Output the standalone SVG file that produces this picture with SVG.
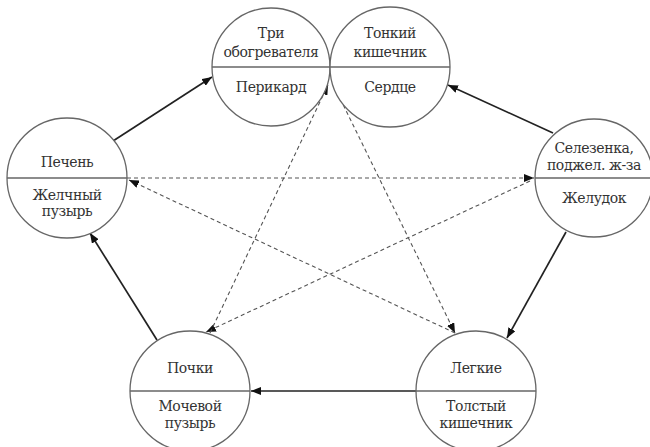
<svg xmlns="http://www.w3.org/2000/svg" width="650" height="447" viewBox="0 0 650 447">
<defs>
<marker id="ah" viewBox="0 0 10 8" refX="10" refY="4" markerWidth="10" markerHeight="8" markerUnits="userSpaceOnUse" orient="auto">
<path d="M0,0 L10,4 L0,8 Z" fill="#111"/>
</marker>
<style>
.c{fill:#fff;stroke:#666;stroke-width:1.3}
.d{stroke:#666;stroke-width:1.3}
.t{font-family:'DejaVu Serif','Liberation Serif',serif;font-size:14px;letter-spacing:-0.4px;fill:#333;text-anchor:middle}
.s{stroke:#222;stroke-width:1.7;fill:none;marker-end:url(#ah)}
.k{stroke:#555;stroke-width:1.1;stroke-dasharray:4 3;fill:none;marker-end:url(#ah)}
</style>
</defs>
<rect width="650" height="447" fill="#fff"/>
<g id="connectors">
<line class="k" x1="127" y1="178" x2="534" y2="178"/>
<line class="k" x1="530" y1="181" x2="206" y2="332"/>
<line class="k" x1="210" y1="333" x2="328" y2="85"/>
<line class="k" x1="334" y1="86" x2="455" y2="333"/>
<line class="k" x1="455" y1="333" x2="129" y2="180"/>
<line class="s" x1="113" y1="141" x2="212" y2="77"/>
<line class="s" x1="553" y1="133" x2="448" y2="85"/>
<line class="s" x1="566" y1="232" x2="507" y2="338"/>
<line class="s" x1="416" y1="391" x2="251" y2="391"/>
<line class="s" x1="157" y1="340" x2="90" y2="233"/>
</g>
<g id="triple-heater">
<circle class="c" cx="271" cy="67" r="59"/>
<line class="d" x1="212" y1="67" x2="330" y2="67"/>
<text class="t" x="271" y="38">Три</text>
<text class="t" x="271" y="57">обогревателя</text>
<text class="t" x="271" y="92">Перикард</text>
</g>
<g id="small-intestine">
<circle class="c" cx="390" cy="67" r="60"/>
<line class="d" x1="330" y1="67" x2="450" y2="67"/>
<text class="t" x="390" y="38">Тонкий</text>
<text class="t" x="390" y="57">кишечник</text>
<text class="t" x="390" y="92">Сердце</text>
</g>
<g id="liver">
<circle class="c" cx="67" cy="178" r="60"/>
<line class="d" x1="7" y1="178" x2="127" y2="178"/>
<text class="t" x="67" y="167">Печень</text>
<text class="t" x="67" y="200">Желчный</text>
<text class="t" x="67" y="216">пузырь</text>
</g>
<g id="spleen">
<circle class="c" cx="594" cy="178" r="59"/>
<line class="d" x1="535" y1="178" x2="653" y2="178"/>
<text class="t" x="594" y="153">Селезенка,</text>
<text class="t" x="594" y="170">поджел. ж-за</text>
<text class="t" x="594" y="203">Желудок</text>
</g>
<g id="kidneys">
<circle class="c" cx="190" cy="391" r="60"/>
<line class="d" x1="130" y1="391" x2="250" y2="391"/>
<text class="t" x="190" y="373">Почки</text>
<text class="t" x="190" y="411">Мочевой</text>
<text class="t" x="190" y="428">пузырь</text>
</g>
<g id="lungs">
<circle class="c" cx="476" cy="391" r="60"/>
<line class="d" x1="416" y1="391" x2="536" y2="391"/>
<text class="t" x="476" y="373">Легкие</text>
<text class="t" x="476" y="411">Толстый</text>
<text class="t" x="476" y="428">кишечник</text>
</g>
</svg>
